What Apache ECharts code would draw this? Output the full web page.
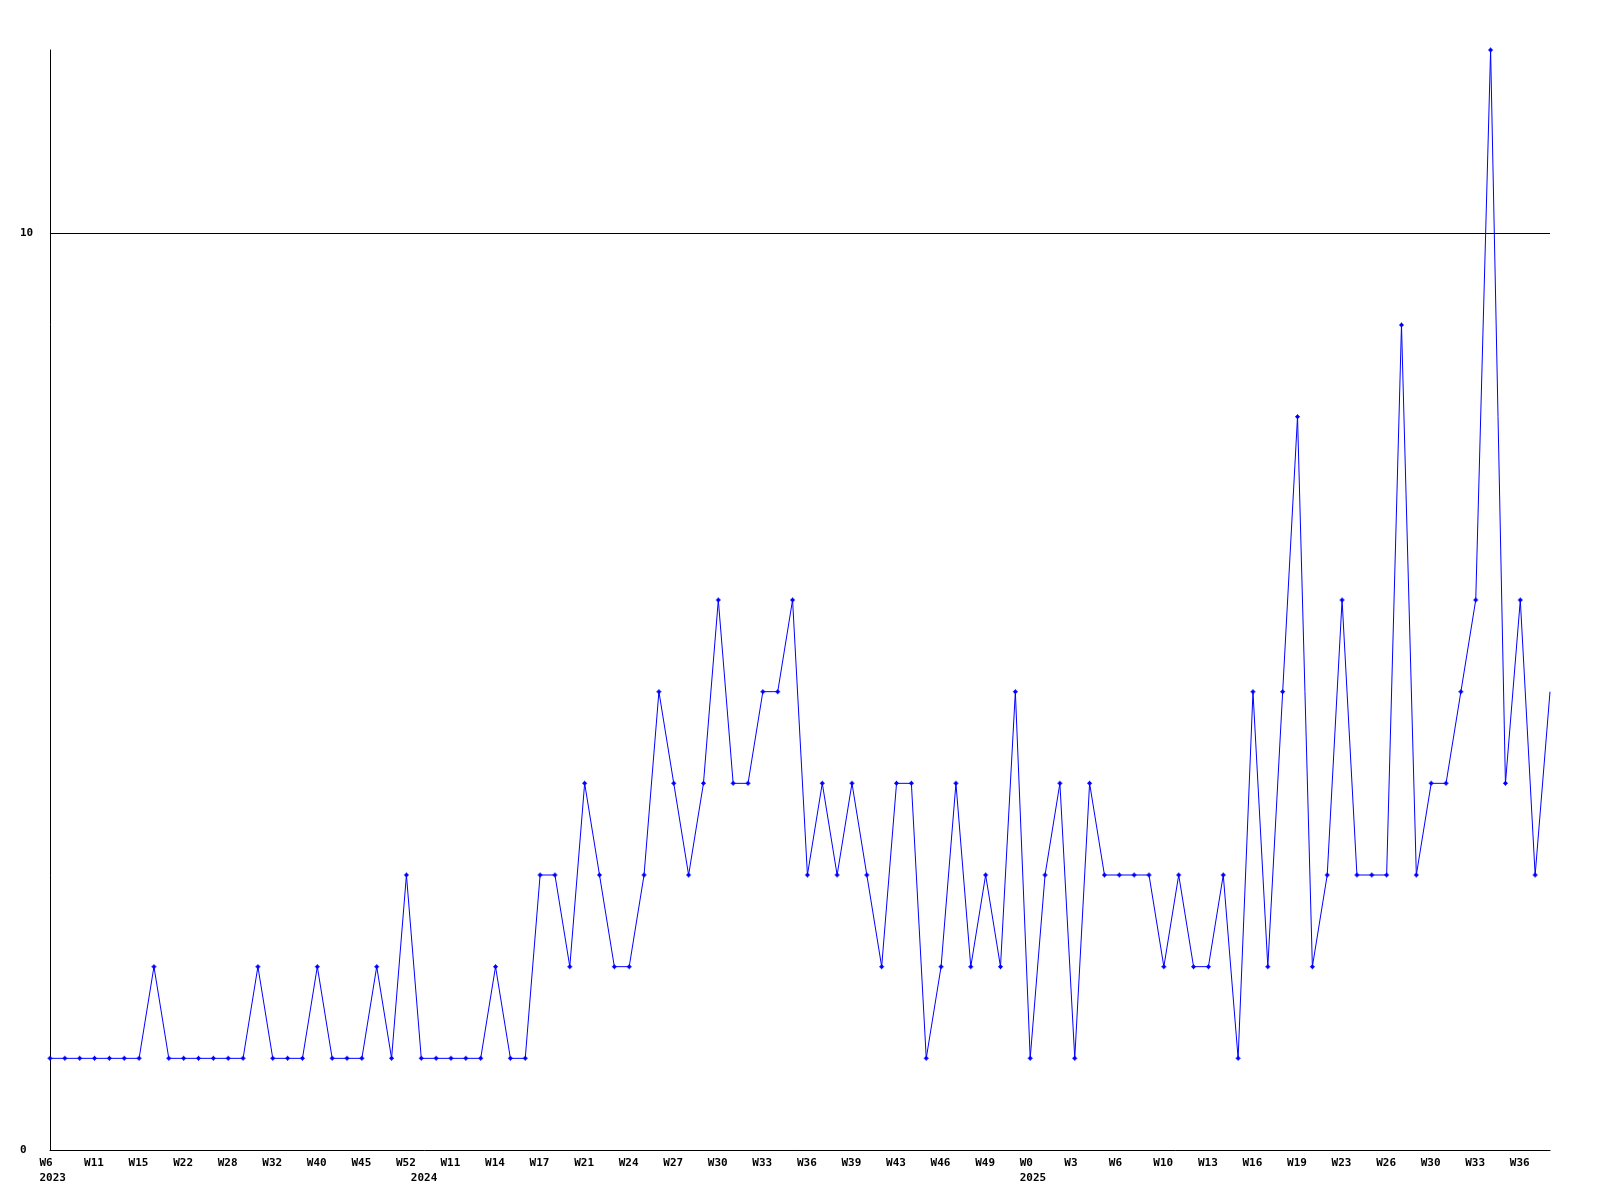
<!DOCTYPE html>
<html><head><meta charset="utf-8">
<script src="https://cdn.jsdelivr.net/npm/echarts@6/dist/echarts.min.js"></script>
<style>html,body{margin:0;padding:0;background:#fff}#c{width:1600px;height:1200px}</style>
</head><body><div id="c"></div>
<script>
// Week tick labels, one every 3 data points
const tickLabels = ['W6','W11','W15','W22','W28','W32','W40','W45','W52','W11','W14','W17','W21','W24','W27','W30','W33','W36','W39','W43','W46','W49','W0','W3','W6','W10','W13','W16','W19','W23','W26','W30','W33','W36'];
// Year labels and the data index where each year begins
const yearLabels = ['2023','2024','2025'];
const yearIndex = [0, 25, 66];
// Series values (one per data point)
const values = [
  1,1,1,1,1,1,1,2,1,1,
  1,1,1,1,2,1,1,1,2,1,
  1,1,2,1,3,1,1,1,1,1,
  2,1,1,3,3,2,4,3,2,2,
  3,5,4,3,4,6,4,4,5,5,
  6,3,4,3,4,3,2,4,4,1,
  2,4,2,3,2,5,1,3,4,1,
  4,3,3,3,3,2,3,2,2,3,
  1,5,2,5,8,2,3,6,3,3,
  3,9,3,4,4,5,6,12,4,6,
  3,5
];
const categories = values.map((_, i) => 'P' + i);

const font = { fontFamily: 'DejaVu Sans Mono', fontSize: 11, fontWeight: 'bold', color: '#000' };
const plus = 'path://M2,0H3V1H4V2H5V3H4V4H3V5H2V4H1V3H0V2H1V1H2Z';

const chart = echarts.init(document.getElementById('c'), null, { renderer: 'canvas' });
chart.setOption({
  animation: false,
  backgroundColor: '#fff',
  grid: [
    { left: 50, right: 50, top: 50, bottom: 50 },
    { left: 39.5, right: 60.5, top: 50, bottom: 50 }
  ],
  xAxis: [
    { type: 'category', gridIndex: 0, data: categories, boundaryGap: false,
      axisLine: { show: true, lineStyle: { color: '#000', width: 1 } },
      axisTick: { show: false }, axisLabel: { show: false }, splitLine: { show: false } },
    { type: 'category', gridIndex: 1, data: categories, boundaryGap: false,
      axisLine: { show: false }, axisTick: { show: false }, splitLine: { show: false },
      axisLabel: Object.assign({ align: 'left', margin: 8,
        interval: (i) => i % 3 === 0,
        formatter: (v, i) => (i % 3 === 0 ? tickLabels[i / 3] : '') }, font) },
    { type: 'category', gridIndex: 1, data: categories, boundaryGap: false, position: 'bottom',
      axisLine: { show: false }, axisTick: { show: false }, splitLine: { show: false },
      axisLabel: Object.assign({ align: 'left', margin: 23,
        interval: (i) => yearIndex.indexOf(i) >= 0,
        formatter: (v, i) => { const k = yearIndex.indexOf(i); return k >= 0 ? yearLabels[k] : ''; } }, font) }
  ],
  yAxis: [
    { type: 'value', gridIndex: 0, min: 0, max: 12, interval: 10,
      axisLine: { show: true, lineStyle: { color: '#000', width: 1 } },
      axisTick: { show: false },
      axisLabel: Object.assign({ align: 'left', margin: 30, showMaxLabel: false, padding: [4, 0, 0, 0],
        formatter: (v) => (v === 12 ? '' : String(v)) }, font),
      splitLine: { show: true, showMinLine: false, showMaxLine: false, lineStyle: { color: '#000', width: 1 } } },
    { type: 'value', gridIndex: 1, min: 0, max: 1, show: false }
  ],
  series: [{
    type: 'line', xAxisIndex: 0, yAxisIndex: 0, data: values,
    symbol: (v, p) => (p.dataIndex === values.length - 1 ? 'none' : plus),
    symbolSize: 5, showAllSymbol: true,
    lineStyle: { color: '#0000ff', width: 1 },
    itemStyle: { color: '#0000ff' },
    emphasis: { disabled: true }
  }]
});
</script></body></html>
